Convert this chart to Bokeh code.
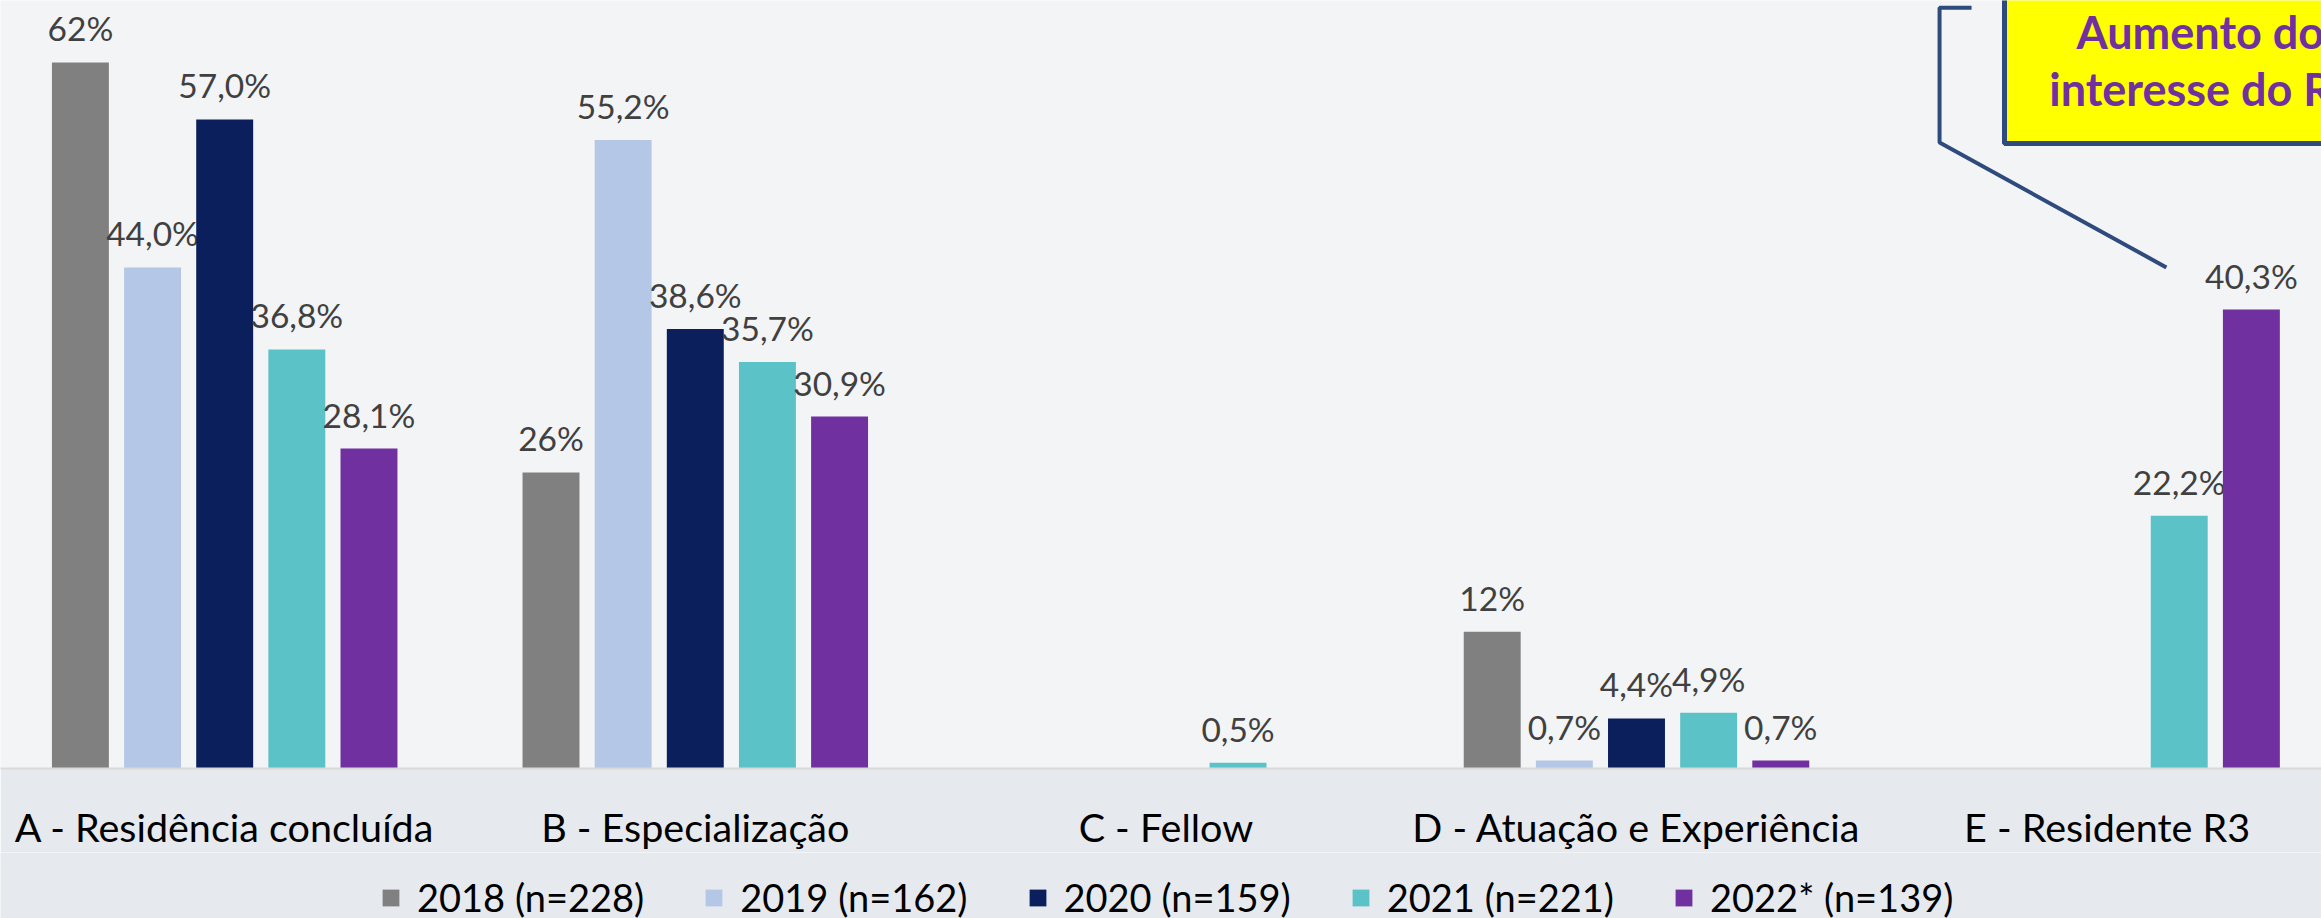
from bokeh.plotting import figure
from bokeh.layouts import column
from bokeh.models import Range1d, FixedTicker, Legend, LegendItem, ColumnDataSource
from bokeh.core.properties import value
from bokeh.embed import file_html
from bokeh.resources import INLINE

categories = ["A - Residência concluída", "B - Especialização", "C - Fellow",
              "D - Atuação e Experiência", "E - Residente R3"]
series_names = ["2018 (n=228)", "2019 (n=162)", "2020 (n=159)", "2021 (n=221)", "2022* (n=139)"]
v2018 = [62, 26, None, 12, None]
v2019 = [44.0, 55.2, None, 0.7, None]
v2020 = [57.0, 38.6, None, 4.4, None]
v2021 = [36.8, 35.7, 0.5, 4.9, 22.2]
v2022 = [28.1, 30.9, None, 0.7, 40.3]
series_values = [v2018, v2019, v2020, v2021, v2022]
series_decimals = [0, 1, 1, 1, 1]
colors = ["#808080", "#B4C7E7", "#0A1F5C", "#5BC2C7", "#7030A0"]
callout_lines = ["Aumento do", "interesse do R"]

FONT = "Lato"
STEP = 0.1533
BARW = 0.121
W = 2321
H_MAIN = 852
H_LEG = 66
BOTTOM_BG = "#E6EAEE"

p = figure(width=W, height=H_MAIN, output_backend="svg", toolbar_location=None,
           x_range=Range1d(-0.4764, 4.4556), y_range=Range1d(0, 67.44),
           min_border_left=0, min_border_right=0, min_border_top=0, min_border_bottom=84)
p.background_fill_color = "#F3F4F6"
p.border_fill_color = BOTTOM_BG
p.outline_line_color = None
p.grid.visible = False
p.yaxis.visible = False

# legend-only strip
pl = figure(width=W, height=H_LEG, output_backend="svg", toolbar_location=None,
            x_range=Range1d(0, 1), y_range=Range1d(0, 1), min_border=0)
pl.background_fill_color = BOTTOM_BG
pl.border_fill_color = BOTTOM_BG
pl.outline_line_color = None
pl.grid.visible = False
pl.axis.visible = False

items = []
for j, (name, vals, dec, col) in enumerate(zip(series_names, series_values, series_decimals, colors)):
    xs, tops, labs = [], [], []
    for i, v in enumerate(vals):
        if v is None:
            continue
        xs.append(i + (j - 2) * STEP)
        tops.append(v)
        labs.append((f"{v:.{dec}f}%").replace(".", ","))
    src = ColumnDataSource(dict(x=xs, top=tops, lab=labs))
    p.vbar(x="x", top="top", width=BARW, source=src, fill_color=col, line_color=None)
    p.text(x="x", y="top", text="lab", source=src, text_align="center",
           text_baseline="middle", y_offset=-34, text_font=value(FONT),
           text_font_size="33.5px", text_color="#404040")
    # legend swatch renderer: a zero-height bar far outside the strip's visible range
    rl = pl.vbar(x=[-50], top=[-50], bottom=[-50], width=0.01, fill_color=col, line_color=None)
    items.append(LegendItem(label=name, renderers=[rl]))

# callout
p.quad(left=[3.782], right=[5.2], bottom=[54.88], top=[72], fill_color="#FFFF00",
       line_color="#2F4A7D", line_width=5)
p.line(x=[3.712, 3.644, 3.644, 4.126], y=[66.8, 66.8, 54.97, 44.0],
       line_color="#2F4A7D", line_width=4)
p.text(x=[3.935, 3.877], y=[64.65, 59.64], text=callout_lines, text_align="left",
       text_baseline="middle", text_font=value(FONT), text_font_style="bold",
       text_font_size="45px", text_color="#7030A0")

xa = p.xaxis[0]
xa.ticker = FixedTicker(ticks=list(range(len(categories))))
xa.major_label_overrides = {i: c for i, c in enumerate(categories)}
xa.major_label_text_font = FONT
xa.major_label_text_font_size = "39.5px"
xa.major_label_text_color = "#000000"
xa.major_label_standoff = 34
xa.major_tick_line_color = None
xa.minor_tick_line_color = None
xa.major_tick_out = 0
xa.axis_line_color = "#D9D9D9"
xa.axis_line_width = 2

legend = Legend(items=items, orientation="horizontal", location=(380, -2),
                glyph_width=21, glyph_height=21, label_standoff=16, spacing=59,
                padding=0, margin=0, border_line_color=None, background_fill_alpha=0,
                label_text_font=FONT, label_text_font_size="38px", label_text_color="#000000")
pl.add_layout(legend)

layout = column(p, pl, spacing=0)
open("out.html", "w").write(file_html(layout, INLINE))
